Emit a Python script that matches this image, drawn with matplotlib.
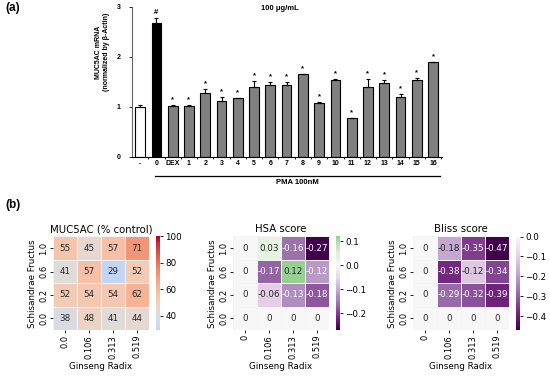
import numpy as np
import matplotlib
matplotlib.use("Agg")
import matplotlib.pyplot as plt
import matplotlib.transforms as mtransforms
import seaborn as sns

# =========================================================
# data
# =========================================================

# (a) MUC5AC mRNA bar chart
bar_labels = ['-', '0', 'DEX', '1', '2', '3', '4', '5', '6', '7', '8',
              '9', '10', '11', '12', '13', '14', '15', '16']
bar_values = [1.00, 2.68, 1.02, 1.02, 1.28, 1.11, 1.17, 1.39, 1.43, 1.43,
              1.65, 1.08, 1.53, 0.77, 1.39, 1.47, 1.20, 1.53, 1.90]
bar_errors = [0.04, 0.10, 0.02, 0.01, 0.07, 0.09, 0.01, 0.13, 0.06, 0.06,
              0.01, 0.02, 0.02, 0.01, 0.16, 0.06, 0.05, 0.04, 0.00]
bar_marks = ['', '#'] + ['*'] * 17
bar_colors = ['white', 'black'] + ['#808080'] * 17

# (b) heatmaps
ginseng = ['0.0', '0.106', '0.313', '0.519']
ginseng_score = ['0', '0.106', '0.313', '0.519']
schisandrae = ['1.0', '0.6', '0.2', '0.0']

muc5ac = np.array([[55, 45, 57, 71],
                   [41, 57, 29, 52],
                   [52, 54, 54, 62],
                   [38, 48, 41, 44]])

hsa = np.array([[0, 0.03, -0.16, -0.27],
                [0, -0.17, 0.12, -0.12],
                [0, -0.06, -0.13, -0.18],
                [0, 0, 0, 0]])

bliss = np.array([[0, -0.18, -0.35, -0.47],
                  [0, -0.38, -0.12, -0.34],
                  [0, -0.29, -0.32, -0.39],
                  [0, 0, 0, 0]])

W, H = 550, 376
fig = plt.figure(figsize=(W / 100, H / 100), dpi=100)


def px(x0, y0, x1, y1):
    # pixel box -> figure fraction rect
    return [x0 / W, 1 - y1 / H, (x1 - x0) / W, (y1 - y0) / H]


# =========================================================
# panel (a)
# =========================================================
bold = dict(family='Liberation Sans', weight='bold')

ax = fig.add_axes(px(131.7, 6.7, 442, 156.7))
x = np.arange(len(bar_labels))
ax.bar(x, bar_values, width=0.6, color=bar_colors, edgecolor='black',
       linewidth=0.8, zorder=2)
ax.errorbar(x, bar_values, yerr=[np.zeros(len(x)), bar_errors], fmt='none',
            ecolor='black', elinewidth=0.8, capsize=1.5, capthick=0.8, zorder=3)
for xi, v, e, m in zip(x, bar_values, bar_errors, bar_marks):
    if m:
        ax.text(xi, v + e + 0.03, m, ha='center', va='bottom', fontsize=5.5, **bold)

ax.set_xlim(-0.52, 18.55)
ax.set_ylim(0, 3)
ax.set_yticks([0, 1, 2, 3])
ax.set_yticklabels(['0', '1', '2', '3'], fontsize=5, **bold)
ax.set_xticks(np.arange(0.5, 19, 1))
ax.set_xticklabels([])
ax.tick_params(axis='both', direction='out', length=2, width=0.6, pad=6)
ax.tick_params(axis='x', length=1.5)
trans = mtransforms.blended_transform_factory(ax.transData, ax.transAxes)
for xi, lab in zip(x, bar_labels):
    ax.text(xi, -0.025, lab, ha='center', va='top', fontsize=5,
            transform=trans, **bold)
for s in ['top', 'right']:
    ax.spines[s].set_visible(False)
ax.spines['left'].set_color('#666666')
ax.spines['left'].set_linewidth(0.8)
ax.spines['bottom'].set_linewidth(0.8)

ax.plot([0.9, 18.4], [-0.129, -0.129], color='black', lw=0.9,
        transform=trans, clip_on=False)
fig.text(297 / W, 1 - 183 / H, 'PMA 100nM', ha='center', va='center', fontsize=5.5, **bold)
fig.text(280 / W, 1 - 8 / H, '100 μg/mL', ha='center', va='center', fontsize=5.5, **bold)
fig.text(103 / W, 1 - 52 / H, 'MUC5AC mRNA\n(normalized by β-Actin)', ha='center',
         va='center', rotation=90, fontsize=5, linespacing=1.2, **bold)
fig.text(5 / W, 1 - 8 / H, '(a)', ha='left', va='center', fontsize=8.5, **bold)
fig.text(5 / W, 1 - 205 / H, '(b)', ha='left', va='center', fontsize=8.5, **bold)

# =========================================================
# panel (b)
# =========================================================


def fmt_score(v):
    return '0' if v == 0 else f'{v:.2f}'


panels = [
    (53.3, muc5ac, 'MUC5AC (% control)', 'coolwarm', 40, 100, muc5ac.astype(int).astype(str),
     ginseng, [40, 60, 80, 100]),
    (233.3, hsa, 'HSA score', 'PRGn', 0, None, np.vectorize(fmt_score)(hsa),
     ginseng_score, [-0.2, -0.1, 0.0, 0.1]),
    (413.3, bliss, 'Bliss score', 'PRGn', 0, None, np.vectorize(fmt_score)(bliss),
     ginseng_score, [-0.4, -0.3, -0.2, -0.1, 0.0]),
]

for x0, data, title, cmap, center, vmax, annot, xlabels, cticks in panels:
    hax = fig.add_axes(px(x0, 236.5, x0 + 95.5, 330))
    cax = fig.add_axes(px(x0 + 102.5, 236.5, x0 + 107, 330))
    sns.heatmap(data, ax=hax, cbar_ax=cax, cmap=cmap, center=center, vmax=vmax,
                annot=annot, fmt='', annot_kws={'size': 6.3},
                linewidths=0.5, linecolor='#f4f4f4',
                xticklabels=xlabels, yticklabels=schisandrae)
    hax.set_title(title, fontsize=7.3, pad=3)
    hax.set_xlabel('Ginseng Radix', fontsize=6.3, labelpad=2)
    hax.set_ylabel('Schisandrae Fructus', fontsize=6.3, labelpad=2)
    hax.set_xticklabels(xlabels, rotation=90, fontsize=6)
    hax.set_yticklabels(schisandrae, rotation=90, va='center', fontsize=6)
    hax.tick_params(length=2, width=0.6, pad=1.5)
    cax.set_yticks(cticks)
    cax.tick_params(labelsize=6.3, length=2, width=0.6, pad=1.5)

fig.savefig('out.png', dpi=100)
